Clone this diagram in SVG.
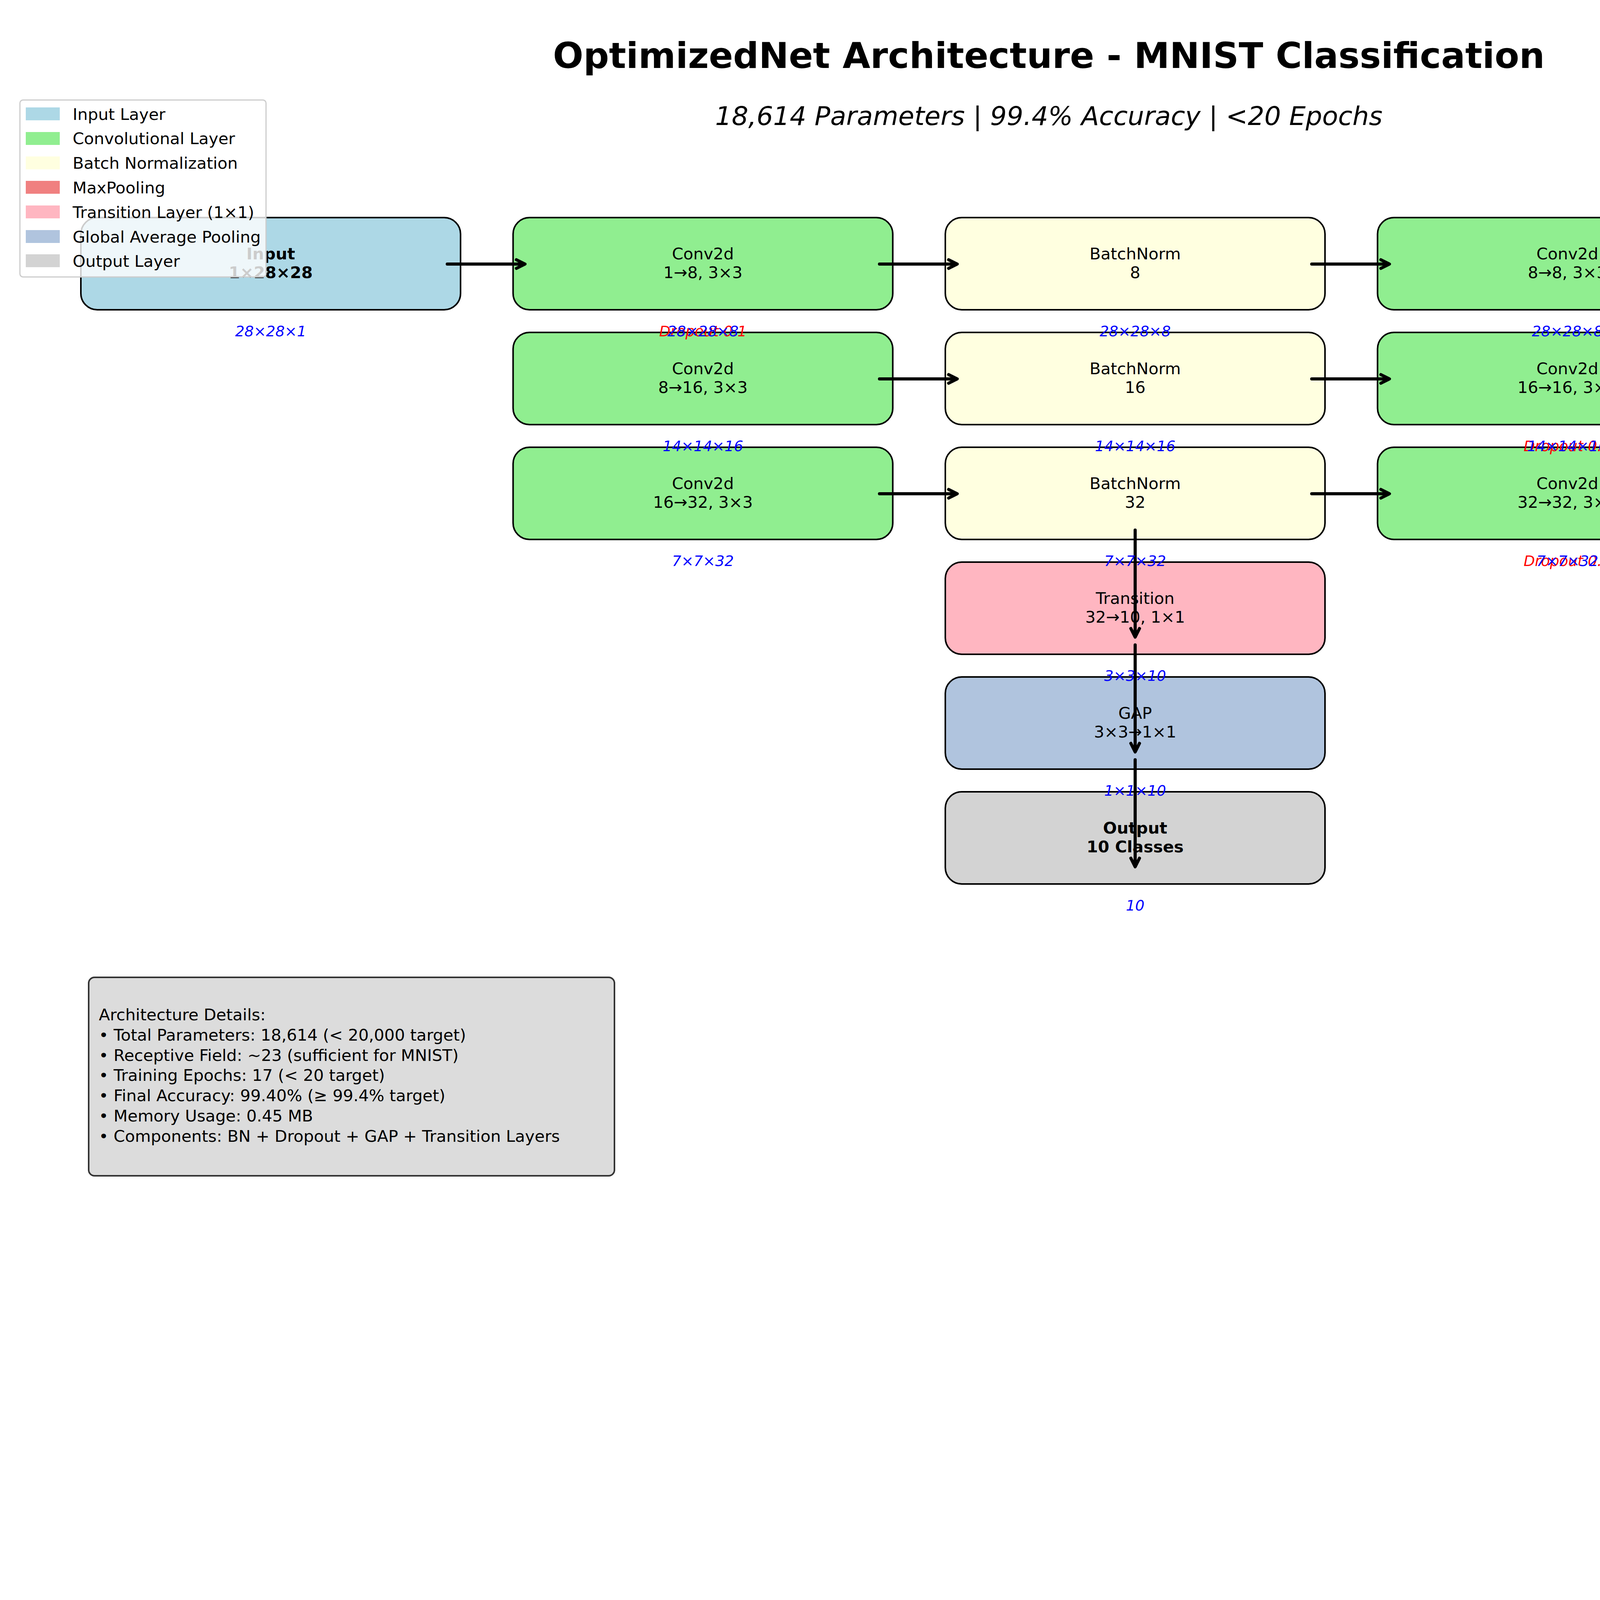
<svg xmlns="http://www.w3.org/2000/svg" width="5370" height="4170" viewBox="0 0 5370 4170">
<style>
text{font-family:"DejaVu Sans","Liberation Sans",sans-serif;}
.box{stroke:#000;stroke-width:4;}
.nt{font-size:41.7px;fill:#000;text-anchor:middle;}
.b{font-weight:bold;}
.lbl{font-size:37.5px;font-style:italic;fill:#0000ff;text-anchor:middle;}
.drop{font-size:37.5px;font-style:italic;fill:#ff0000;text-anchor:middle;}
.ar{fill:none;stroke:#000;stroke-width:8;stroke-linecap:round;stroke-linejoin:round;}
.lg{font-size:41.7px;fill:#000;}
.det{font-size:41.7px;fill:#000;}
</style>
<rect x="0" y="0" width="5370" height="4170" fill="#ffffff"/>
<text x="2685" y="174" text-anchor="middle" font-size="91.7" font-weight="bold" fill="#000">OptimizedNet Architecture - MNIST Classification</text>
<text x="2685" y="320" text-anchor="middle" font-size="66.7" font-style="italic" fill="#000">18,614 Parameters | 99.4% Accuracy | &lt;20 Epochs</text>

<g id="node-input"><rect class="box" x="207" y="557" width="972" height="236" rx="42" fill="#add8e6"/><text class="nt b" x="693" y="664">Input</text><text class="nt b" x="693" y="712">1×28×28</text></g>
<g id="node-conv1"><rect class="box" x="1313.5" y="557" width="972" height="236" rx="42" fill="#90ee90"/><text class="nt" x="1799.5" y="664">Conv2d</text><text class="nt" x="1799.5" y="712">1→8, 3×3</text></g>
<g id="node-bn1"><rect class="box" x="2420" y="557" width="972" height="236" rx="42" fill="#ffffe0"/><text class="nt" x="2906" y="664">BatchNorm</text><text class="nt" x="2906" y="712">8</text></g>
<g id="node-conv2"><rect class="box" x="3526.5" y="557" width="972" height="236" rx="42" fill="#90ee90"/><text class="nt" x="4012.5" y="664">Conv2d</text><text class="nt" x="4012.5" y="712">8→8, 3×3</text></g>
<g id="node-pool1"><rect class="box" x="4633" y="557" width="972" height="236" rx="42" fill="#f08080"/><text class="nt" x="5119" y="664">MaxPool</text><text class="nt" x="5119" y="712">2×2</text></g>

<g id="node-conv3"><rect class="box" x="1313.5" y="851" width="972" height="236" rx="42" fill="#90ee90"/><text class="nt" x="1799.5" y="958">Conv2d</text><text class="nt" x="1799.5" y="1006">8→16, 3×3</text></g>
<g id="node-bn2"><rect class="box" x="2420" y="851" width="972" height="236" rx="42" fill="#ffffe0"/><text class="nt" x="2906" y="958">BatchNorm</text><text class="nt" x="2906" y="1006">16</text></g>
<g id="node-conv4"><rect class="box" x="3526.5" y="851" width="972" height="236" rx="42" fill="#90ee90"/><text class="nt" x="4012.5" y="958">Conv2d</text><text class="nt" x="4012.5" y="1006">16→16, 3×3</text></g>
<g id="node-pool2"><rect class="box" x="4633" y="851" width="972" height="236" rx="42" fill="#f08080"/><text class="nt" x="5119" y="958">MaxPool</text><text class="nt" x="5119" y="1006">2×2</text></g>

<g id="node-conv5"><rect class="box" x="1313.5" y="1145" width="972" height="236" rx="42" fill="#90ee90"/><text class="nt" x="1799.5" y="1252">Conv2d</text><text class="nt" x="1799.5" y="1300">16→32, 3×3</text></g>
<g id="node-bn3"><rect class="box" x="2420" y="1145" width="972" height="236" rx="42" fill="#ffffe0"/><text class="nt" x="2906" y="1252">BatchNorm</text><text class="nt" x="2906" y="1300">32</text></g>
<g id="node-conv6"><rect class="box" x="3526.5" y="1145" width="972" height="236" rx="42" fill="#90ee90"/><text class="nt" x="4012.5" y="1252">Conv2d</text><text class="nt" x="4012.5" y="1300">32→32, 3×3</text></g>
<g id="node-pool3"><rect class="box" x="4633" y="1145" width="972" height="236" rx="42" fill="#f08080"/><text class="nt" x="5119" y="1252">MaxPool</text><text class="nt" x="5119" y="1300">2×2</text></g>

<g id="node-transition"><rect class="box" x="2420" y="1439" width="972" height="236" rx="42" fill="#ffb6c1"/><text class="nt" x="2906" y="1546">Transition</text><text class="nt" x="2906" y="1594">32→10, 1×1</text></g>
<g id="node-gap"><rect class="box" x="2420" y="1733" width="972" height="236" rx="42" fill="#b0c4de"/><text class="nt" x="2906" y="1840">GAP</text><text class="nt" x="2906" y="1888">3×3→1×1</text></g>
<g id="node-output"><rect class="box" x="2420" y="2027" width="972" height="236" rx="42" fill="#d3d3d3"/><text class="nt b" x="2906" y="2134">Output</text><text class="nt b" x="2906" y="2182">10 Classes</text></g>

<g id="connectors">
<line class="ar" x1="1145" y1="676" x2="1340" y2="676"/><polyline class="ar" points="1322,665 1344,676 1322,687"/>
<line class="ar" x1="2251.5" y1="676" x2="2446.5" y2="676"/><polyline class="ar" points="2428.5,665 2450.5,676 2428.5,687"/>
<line class="ar" x1="3358" y1="676" x2="3553" y2="676"/><polyline class="ar" points="3535,665 3557,676 3535,687"/>
<line class="ar" x1="4464.5" y1="676" x2="4659.5" y2="676"/><polyline class="ar" points="4641.5,665 4663.5,676 4641.5,687"/>

<line class="ar" x1="2251.5" y1="970" x2="2446.5" y2="970"/><polyline class="ar" points="2428.5,959 2450.5,970 2428.5,981"/>
<line class="ar" x1="3358" y1="970" x2="3553" y2="970"/><polyline class="ar" points="3535,959 3557,970 3535,981"/>
<line class="ar" x1="4464.5" y1="970" x2="4659.5" y2="970"/><polyline class="ar" points="4641.5,959 4663.5,970 4641.5,981"/>

<line class="ar" x1="2251.5" y1="1264" x2="2446.5" y2="1264"/><polyline class="ar" points="2428.5,1253 2450.5,1264 2428.5,1275"/>
<line class="ar" x1="3358" y1="1264" x2="3553" y2="1264"/><polyline class="ar" points="3535,1253 3557,1264 3535,1275"/>
<line class="ar" x1="4464.5" y1="1264" x2="4659.5" y2="1264"/><polyline class="ar" points="4641.5,1253 4663.5,1264 4641.5,1275"/>

<line class="ar" x1="5119" y1="769" x2="5119" y2="1039"/><polyline class="ar" points="5108,1021 5119,1043 5130,1021"/>
<line class="ar" x1="5119" y1="1063" x2="5119" y2="1333"/><polyline class="ar" points="5108,1315 5119,1337 5130,1315"/>

<line class="ar" x1="2906" y1="1357" x2="2906" y2="1627"/><polyline class="ar" points="2895,1609 2906,1631 2917,1609"/>
<line class="ar" x1="2906" y1="1651" x2="2906" y2="1921"/><polyline class="ar" points="2895,1903 2906,1925 2917,1903"/>
<line class="ar" x1="2906" y1="1945" x2="2906" y2="2215"/><polyline class="ar" points="2895,2197 2906,2219 2917,2197"/>
</g>

<g id="shape-labels">
<text class="lbl" x="693" y="861">28×28×1</text>
<text class="drop" x="1799.5" y="861">Dropout 0.1</text>
<text class="lbl" x="1799.5" y="861">28×28×8</text>
<text class="lbl" x="2906" y="861">28×28×8</text>
<text class="lbl" x="4012.5" y="861">28×28×8</text>
<text class="lbl" x="5119" y="861">14×14×8</text>

<text class="lbl" x="1799.5" y="1155">14×14×16</text>
<text class="lbl" x="2906" y="1155">14×14×16</text>
<text class="drop" x="4012.5" y="1155">Dropout 0.1</text>
<text class="lbl" x="4012.5" y="1155">14×14×16</text>
<text class="lbl" x="5119" y="1155">7×7×16</text>

<text class="lbl" x="1799.5" y="1449">7×7×32</text>
<text class="lbl" x="2906" y="1449">7×7×32</text>
<text class="drop" x="4012.5" y="1449">Dropout 0.1</text>
<text class="lbl" x="4012.5" y="1449">7×7×32</text>
<text class="lbl" x="5119" y="1449">3×3×32</text>

<text class="lbl" x="2906" y="1743">3×3×10</text>
<text class="lbl" x="2906" y="2037">1×1×10</text>
<text class="lbl" x="2906" y="2331">10</text>
</g>

<g id="legend">
<rect x="51" y="256" width="630" height="453" rx="8" fill="#ffffff" fill-opacity="0.8" stroke="#cccccc" stroke-width="3"/>
<rect x="66" y="275" width="87" height="33" fill="#add8e6"/><text class="lg" x="186" y="306.5">Input Layer</text>
<rect x="66" y="338" width="87" height="33" fill="#90ee90"/><text class="lg" x="186" y="369.3">Convolutional Layer</text>
<rect x="66" y="400.5" width="87" height="33" fill="#ffffe0"/><text class="lg" x="186" y="432.1">Batch Normalization</text>
<rect x="66" y="463" width="87" height="33" fill="#f08080"/><text class="lg" x="186" y="494.9">MaxPooling</text>
<rect x="66" y="526" width="87" height="33" fill="#ffb6c1"/><text class="lg" x="186" y="557.7">Transition Layer (1×1)</text>
<rect x="66" y="589" width="87" height="33" fill="#b0c4de"/><text class="lg" x="186" y="620.5">Global Average Pooling</text>
<rect x="66" y="651" width="87" height="33" fill="#d3d3d3"/><text class="lg" x="186" y="683.3">Output Layer</text>
</g>

<g id="details">
<rect x="227" y="2502" width="1346" height="508" rx="15" fill="#dcdcdc" stroke="#333333" stroke-width="4"/>
<text class="det" x="253" y="2612">Architecture Details:</text>
<text class="det" x="253" y="2664">• Total Parameters: 18,614 (&lt; 20,000 target)</text>
<text class="det" x="253" y="2716">• Receptive Field: ~23 (sufficient for MNIST)</text>
<text class="det" x="253" y="2767">• Training Epochs: 17 (&lt; 20 target)</text>
<text class="det" x="253" y="2819">• Final Accuracy: 99.40% (≥ 99.4% target)</text>
<text class="det" x="253" y="2871">• Memory Usage: 0.45 MB</text>
<text class="det" x="253" y="2923">• Components: BN + Dropout + GAP + Transition Layers</text>
</g>
</svg>
